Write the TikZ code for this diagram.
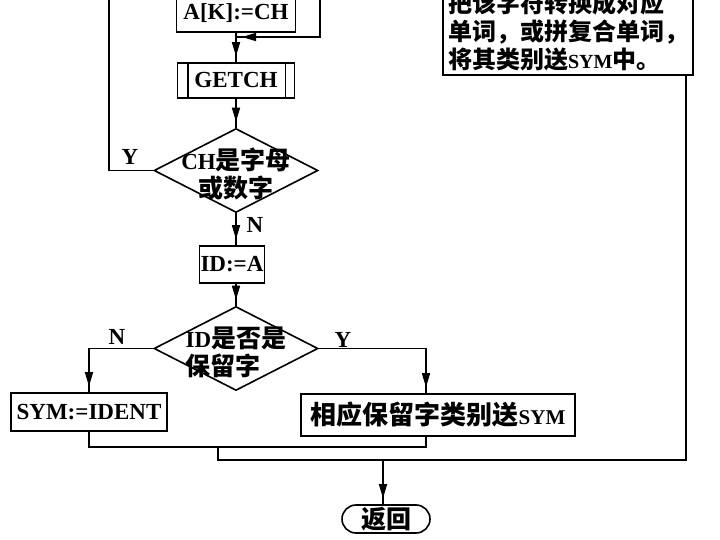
\documentclass[tikz,border=0pt]{standalone}
\usepackage{fontspec}
\setmainfont{Liberation Serif}
\newfontfamily\cjk{Noto Sans CJK SC}
\usetikzlibrary{arrows.meta, shapes.geometric, decorations.markings}
\newcommand{\lat}{\fontsize{23}{28}\selectfont\bfseries}
\newcommand{\zh}[2][25]{{\cjk\fontsize{#1}{28}\selectfont\bfseries #2}}
\newcommand{\sm}[2][21]{{\fontsize{#1}{28}\selectfont #2}}

\begin{document}
\begin{tikzpicture}[x=1pt, y=-1pt, line width=1.6pt,
		box/.style={draw, rectangle, inner sep=1pt, font=\lat},
		cond/.style={draw, diamond, inner sep=0pt, minimum width=164pt, minimum height=84pt},
		lab/.style={inner sep=0pt, font=\lat},
		flow/.style={postaction={decorate}, decoration={markings,
				mark=at position -6pt with {\arrow{Triangle[width=8pt,length=14pt]}}}}]
	\useasboundingbox (0,0) rectangle (720,540);
	\clip (0,0) rectangle (720,540);
	
	% ---------- 上部：存字符、读字符 ----------
	\node[box, minimum width=119pt, minimum height=38pt] (akch) at (236,13) {A[K]:=CH};
	\node[box, minimum width=117pt, minimum height=35pt] (getch) at (236,80.5) {GETCH};
	\draw ([xshift=11pt]getch.north west) -- ([xshift=11pt]getch.south west);
	\draw ([xshift=-10pt]getch.north east) -- ([xshift=-10pt]getch.south east);
	\draw[flow] (akch) -- (getch);
	
	% 右侧回入线
	\coordinate (rtop) at (320,-20);
	\coordinate (rjoin) at (236,37);
	\draw[flow] (rtop) |- (rjoin);
	
	% 判断：字母或数字
	\node[cond] (d1) at (236,170.5) {};
	\node[align=center, font=\lat] (d1t) at ([yshift=-3.5pt]d1.center) {CH\zh{是字母}\\\zh{或数字}};
	\draw[flow] (getch) -- (d1);
	\coordinate (ltop) at (109,-20);
	\draw (d1.west) -| (ltop);
	\node[lab] (ly) at (130,157) {Y};
	
	% ---------- 中部：ID:=A 与保留字判断 ----------
	\node[box, minimum width=65pt, minimum height=37pt] (ida) at (232,264.5) {ID:=A};
	\draw[flow] (d1.south) -- (d1.south |- ida.north);
	\node[lab] (ln) at (255,225) {N};
	
	\node[cond] (d2) at (236,348.5) {};
	\node[align=left, font=\lat] (d2t) at ([yshift=-4pt]d2.center) {ID\zh{是否是}\\\zh{保留字}};
	\draw[flow] (ida.south -| d2.north) -- (d2.north);
	
	% 两个分支
	\node[box, minimum width=274pt, minimum height=42pt] (rsv) at (438,415) {\zh[26]{相应保留字类别送}\sm{SYM}};
	\node[box, minimum width=156pt, minimum height=38pt] (sym) at (89,412) {SYM:=IDENT};
	\draw[flow] (d2.west) -| (sym.north);
	\draw[flow] (d2.east) -| ([xshift=-12pt]rsv.north);
	\node[lab] (ln2) at (117,337) {N};
	\node[lab] (ly2) at (343,340) {Y};
	
	% ---------- 右上：转换说明框 ----------
	\node[box, align=left, minimum width=250pt, minimum height=88pt, inner sep=0pt] (conv) at (568,31)
	{\zh[24]{把该字符转换成对应}\\\zh[24]{单词，或拼复合单词，}\\\zh[24]{将其类别送}\sm[20]{SYM}\zh[24]{中。}};
	
	% ---------- 汇合与返回 ----------
	\coordinate (m1) at (218,447);
	\coordinate (m2) at (218,460);
	\coordinate (rout) at (383,460);
	\draw (sym.south) |- ([xshift=-12pt]rsv.south |- m1) -- ([xshift=-12pt]rsv.south);
	\draw (m1) -- (m2) -| ([xshift=-8pt]conv.south east);
	
	\node[draw, rounded corners=14pt, minimum width=88pt, minimum height=28pt, inner sep=0pt] (ret) at (386,519) {\zh{返回}};
	\draw[flow] (rout) -- (rout |- ret.north);
\end{tikzpicture}
\end{document}
